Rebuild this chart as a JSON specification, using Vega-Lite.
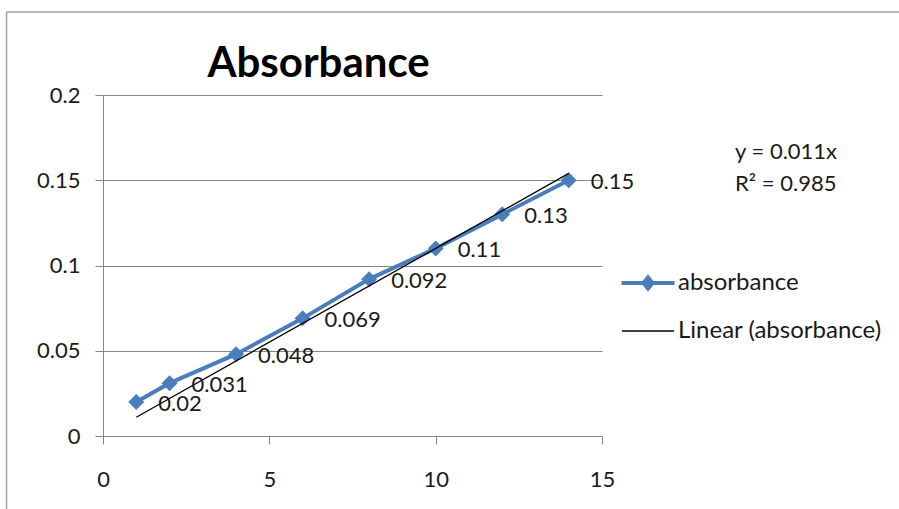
{
  "$schema": "https://vega.github.io/schema/vega-lite/v6.json",
  "width": 499,
  "height": 341,
  "autosize": {"type": "none"},
  "padding": {"left": 103, "top": 95, "right": 297, "bottom": 73},
  "background": "white",
  "datasets": {
    "readings": [
      {"x": 1, "y": 0.02, "series": "absorbance"},
      {"x": 2, "y": 0.031, "series": "absorbance"},
      {"x": 4, "y": 0.048, "series": "absorbance"},
      {"x": 6, "y": 0.069, "series": "absorbance"},
      {"x": 8, "y": 0.092, "series": "absorbance"},
      {"x": 10, "y": 0.11, "series": "absorbance"},
      {"x": 12, "y": 0.13, "series": "absorbance"},
      {"x": 14, "y": 0.15, "series": "absorbance"}
    ],
    "trend": [
      {"x": 1, "y": 0.011, "series": "Linear (absorbance)"},
      {"x": 14, "y": 0.154, "series": "Linear (absorbance)"}
    ],
    "single": [{}]
  },
  "config": {
    "font": "Lato",
    "view": {"stroke": null},
    "axis": {
      "labelFont": "Lato",
      "labelFontSize": 22,
      "labelColor": "#1a1a1a",
      "domainColor": "#868686",
      "tickColor": "#868686",
      "gridColor": "#868686",
      "tickSize": 8,
      "title": null
    }
  },
  "encoding": {
    "x": {
      "type": "quantitative",
      "scale": {"domain": [0, 15], "nice": false, "zero": false},
      "axis": {"values": [0, 5, 10, 15], "grid": false, "labelPadding": 25, "labelFlush": false}
    },
    "y": {
      "type": "quantitative",
      "scale": {"domain": [0, 0.2], "nice": false},
      "axis": {"values": [0, 0.05, 0.1, 0.15, 0.2], "format": "~g", "grid": true, "labelPadding": 15, "domain": true}
    }
  },
  "layer": [
    {
      "data": {"name": "single"},
      "mark": {"type": "rule", "stroke": "#a0a0a0", "strokeWidth": 1.5, "clip": false},
      "encoding": {
        "x": {"datum": -2.9},
        "y": {"datum": 0.2487},
        "y2": {"datum": -0.2}
      }
    },
    {
      "data": {"name": "single"},
      "mark": {"type": "rule", "stroke": "#a0a0a0", "strokeWidth": 1.5, "clip": false},
      "encoding": {
        "x": {"datum": -2.9},
        "x2": {"datum": 40},
        "y": {"datum": 0.2487}
      }
    },
    {
      "data": {"name": "single"},
      "mark": {"type": "text", "align": "center", "baseline": "alphabetic", "font": "Lato", "fontSize": 42, "fontWeight": "bold", "color": "#000000", "clip": false},
      "encoding": {
        "x": {"datum": 6.48},
        "y": {"datum": 0.2106},
        "text": {"value": "Absorbance"}
      }
    },
    {
      "data": {"name": "readings"},
      "mark": {"type": "line", "strokeWidth": 4},
      "encoding": {
        "x": {"field": "x", "type": "quantitative"},
        "y": {"field": "y", "type": "quantitative"},
        "color": {
          "field": "series",
          "type": "nominal",
          "scale": {"domain": ["absorbance", "Linear (absorbance)"], "range": ["#4a7ebb", "#000000"]},
          "legend": {
            "orient": "none",
            "legendX": 533,
            "legendY": 176,
            "title": null,
            "symbolSize": 400,
            "labelFont": "Lato",
            "labelFontSize": 24,
            "labelColor": "#1a1a1a",
            "labelOffset": 18,
            "labelLimit": 0,
            "rowPadding": 22,
            "padding": 0,
            "encode": {
              "symbols": {
                "update": {
                  "shape": {"signal": "datum.value === 'absorbance' ? 'M-2.65,0H2.65M0,-0.55L0.45,0L0,0.55L-0.45,0Z' : 'M-2.6,0H2.6'"},
                  "strokeWidth": {"signal": "datum.value === 'absorbance' ? 4 : 1.3"},
                  "fill": {"signal": "datum.value === 'absorbance' ? '#4a7ebb' : 'transparent'"},
                  "stroke": {"signal": "datum.value === 'absorbance' ? '#4a7ebb' : '#000000'"},
                  "opacity": {"value": 1}
                }
              }
            }
          }
        }
      }
    },
    {
      "data": {"name": "readings"},
      "mark": {"type": "point", "shape": "diamond", "filled": true, "size": 256, "color": "#4a7ebb", "opacity": 1},
      "encoding": {
        "x": {"field": "x", "type": "quantitative"},
        "y": {"field": "y", "type": "quantitative"}
      }
    },
    {
      "data": {"name": "trend"},
      "mark": {"type": "line", "strokeWidth": 1.3},
      "encoding": {
        "x": {"field": "x", "type": "quantitative"},
        "y": {"field": "y", "type": "quantitative"},
        "color": {"field": "series", "type": "nominal"}
      }
    },
    {
      "data": {"name": "readings"},
      "mark": {"type": "text", "align": "left", "baseline": "middle", "dx": 22, "dy": 2, "font": "Lato", "fontSize": 22, "color": "#1a1a1a"},
      "encoding": {
        "x": {"field": "x", "type": "quantitative"},
        "y": {"field": "y", "type": "quantitative"},
        "text": {"field": "y", "type": "quantitative", "format": "~g"}
      }
    },
    {
      "data": {"name": "single"},
      "mark": {"type": "text", "align": "left", "baseline": "middle", "font": "Lato", "fontSize": 22, "color": "#1a1a1a", "clip": false},
      "encoding": {
        "x": {"datum": 19.0},
        "y": {"datum": 0.1666},
        "text": {"value": "y = 0.011x"}
      }
    },
    {
      "data": {"name": "single"},
      "mark": {"type": "text", "align": "left", "baseline": "middle", "font": "Lato", "fontSize": 22, "color": "#1a1a1a", "clip": false},
      "encoding": {
        "x": {"datum": 19.0},
        "y": {"datum": 0.1478},
        "text": {"value": "R² = 0.985"}
      }
    }
  ]
}
